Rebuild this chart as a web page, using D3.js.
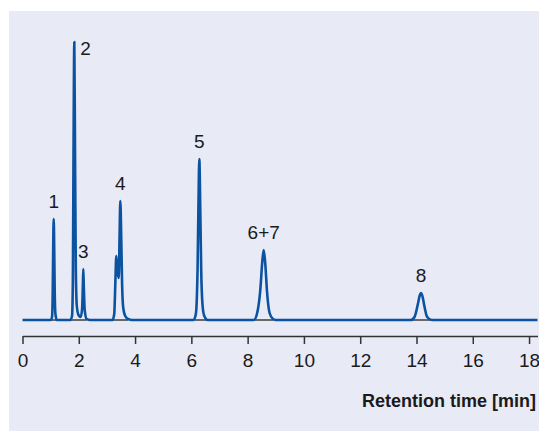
<!DOCTYPE html>
<html>
<head>
<meta charset="utf-8">
<script src="https://cdn.jsdelivr.net/npm/d3@7"></script>
<style>
  body { margin: 0; background: #fff; }
  svg { display: block; }
</style>
</head>
<body>
<div id="chart"></div>
<script>
// Trace: retention time [min] and detector signal (a.u.)
const traceTime = [
  0, 1.00, 1.05, 1.075, 1.09, 1.109, 1.13, 1.145, 1.17, 1.22,
  1.70, 1.76, 1.79, 1.81, 1.841, 1.87, 1.895, 1.93, 1.99, 2.07,
  2.12, 2.145, 2.161, 2.18, 2.21, 2.28, 2.40,
  3.20, 3.26, 3.30, 3.333, 3.37, 3.42, 3.45, 3.476, 3.51, 3.54, 3.58, 3.65, 3.75, 3.90,
  6.08, 6.16, 6.22, 6.25, 6.283, 6.32, 6.35, 6.40, 6.46, 6.58,
  8.22, 8.33, 8.45, 8.52, 8.571, 8.63, 8.69, 8.78, 8.90, 9.00,
  13.80, 13.93, 14.05, 14.12, 14.16, 14.21, 14.28, 14.38, 14.55, 18.3
];
const traceSignal = [
  0, 0, 3, 30, 70, 101, 65, 28, 6, 0,
  0, 4, 40, 150, 278, 150, 50, 14, 5, 3,
  12, 35, 51, 32, 10, 1, 0,
  0, 6, 38, 64, 50, 42, 85, 119, 80, 35, 12, 4, 1, 0,
  0, 6, 50, 110, 161, 105, 50, 14, 4, 0,
  0, 6, 30, 58, 70, 55, 28, 7, 1, 0,
  0, 3, 16, 25, 27, 24, 14, 3, 0, 0
];

// Peak labels
const peakNames = ['1', '2', '3', '4', '5', '6+7', '8'];
const peakTimes = [1.109, 1.841, 2.161, 3.476, 6.283, 8.571, 14.16];
const peakHeights = [101, 278, 51, 119, 161, 70, 27];

// Integration baselines under the peaks [start, end] in min
const baseStart = [1.00, 1.72, 3.22, 6.12, 8.25, 13.82];
const baseEnd = [1.22, 2.28, 3.75, 6.60, 8.90, 14.58];

const xTicks = [0, 2, 4, 6, 8, 10, 12, 14, 16, 18];

const width = 539, height = 432;

const svg = d3.select('#chart').append('svg')
    .attr('width', width)
    .attr('height', height);

svg.append('rect')
    .attr('x', 9).attr('y', 11)
    .attr('width', width - 9).attr('height', height - 12)
    .attr('fill', '#e8eaf6');

const x = d3.scaleLinear().domain([0, 18.3]).range([22.5, 537.5]);
const y = d3.scaleLinear().domain([0, 280]).range([320, 40]);

// baselines
svg.selectAll('line.base')
    .data(baseStart)
    .enter()
    .append('line')
    .attr('class', 'base')
    .attr('x1', d => x(d))
    .attr('x2', (d, i) => x(baseEnd[i]))
    .attr('y1', y(0)).attr('y2', y(0))
    .attr('stroke', '#111')
    .attr('stroke-width', 1.2);

const trace = traceTime.map((t, i) => [t, traceSignal[i]]);

svg.append('path')
    .datum(trace)
    .attr('fill', 'none')
    .attr('stroke', '#0b52a0')
    .attr('stroke-width', 2.6)
    .attr('stroke-linejoin', 'round')
    .attr('d', d3.line()
        .x(d => x(d[0]))
        .y(d => y(d[1]))
        .curve(d3.curveMonotoneX));

// peak labels
const labelFont = '"Liberation Sans Narrow", "Liberation Sans", Arial, sans-serif';
svg.selectAll('text.peak')
    .data(peakNames)
    .enter()
    .append('text')
    .attr('class', 'peak')
    .attr('x', (d, i) => i === 1 ? x(peakTimes[i]) + 6 : x(peakTimes[i]))
    .attr('y', (d, i) => i === 1 ? y(peakHeights[i]) + 13 : y(peakHeights[i]) - 11)
    .attr('text-anchor', (d, i) => i === 1 ? 'start' : 'middle')
    .attr('font-family', labelFont)
    .attr('font-size', 19)
    .attr('fill', '#1a1a1a')
    .text(d => d);

// x axis
const axis = svg.append('g')
    .attr('transform', 'translate(0,336)')
    .call(d3.axisBottom(x)
        .tickValues(xTicks)
        .tickFormat(d3.format('d'))
        .tickSize(8)
        .tickSizeOuter(0)
        .tickPadding(10));

axis.select('.domain').attr('stroke', '#333').attr('stroke-width', 1.5);
axis.selectAll('.tick line').attr('stroke', '#333').attr('stroke-width', 1.5);
axis.selectAll('.tick text')
    .attr('font-family', labelFont)
    .attr('font-size', 19)
    .attr('fill', '#1a1a1a');

svg.append('text')
    .attr('x', 536)
    .attr('y', 407)
    .attr('text-anchor', 'end')
    .attr('font-family', labelFont)
    .attr('font-weight', 'bold')
    .attr('font-size', 18)
    .attr('fill', '#1a1a1a')
    .text('Retention time [min]');
</script>
</body>
</html>
